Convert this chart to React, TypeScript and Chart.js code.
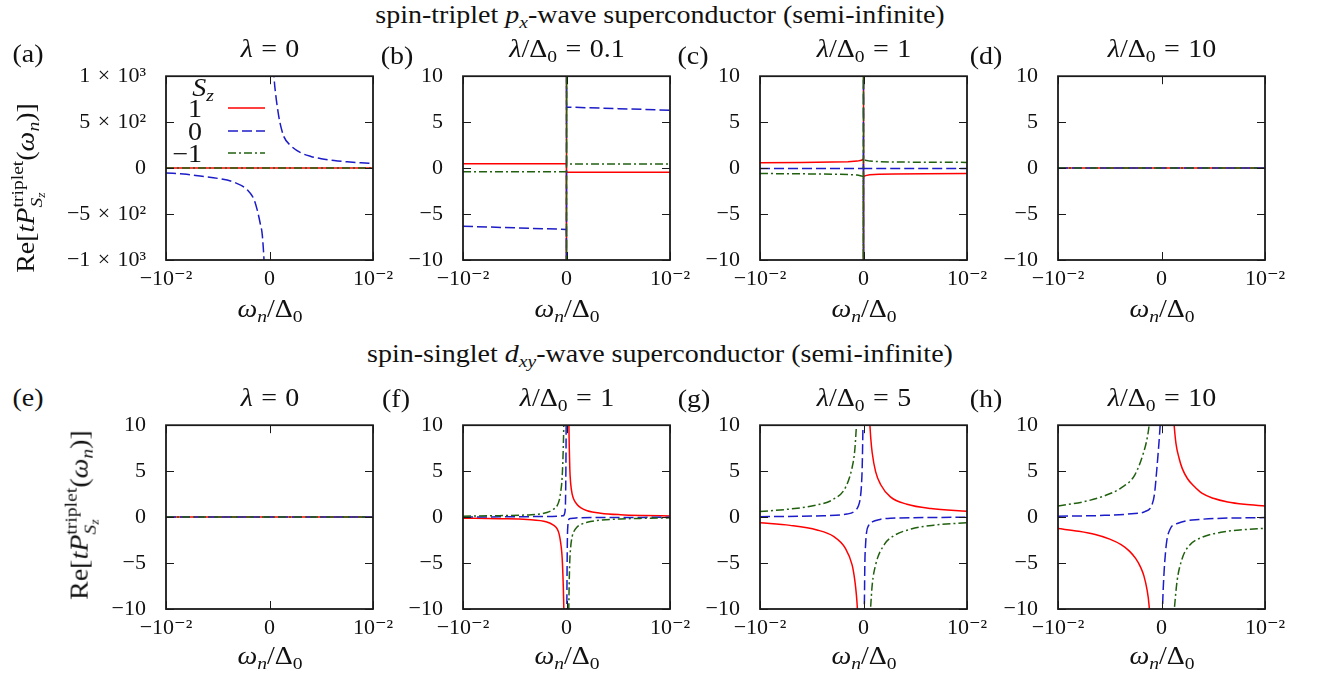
import React, { useEffect, useRef } from 'react';
import { Chart, registerables } from 'chart.js';

Chart.register(...registerables);

// ---------------- tick values / labels ----------------
const X_TICK_VALUES = [-0.01, 0, 0.01];
const X_TICK_LABELS = ['−10⁻²', '0', '10⁻²'];
const Y_TICK_VALUES_LARGE = [-1000, -500, 0, 500, 1000];
const Y_TICK_LABELS_LARGE = ['−1\u2004×\u200410³', '−5\u2004×\u200410²', '0', '5\u2004×\u200410²', '1\u2004×\u200410³'];
const Y_TICK_VALUES = [-10, -5, 0, 5, 10];
const Y_TICK_LABELS = ['−10', '−5', '0', '5', '10'];

// legend entries (S_z values)
const SZ_LABELS = ['1', '0', '−1'];

// panel titles (λ/Δ0 values)
const PANEL_LAMBDA = ['0', '0.1', '1', '10', '0', '1', '5', '10'];
const PANEL_LETTERS = ['a', 'b', 'c', 'd', 'e', 'f', 'g', 'h'];

// ---------------- (a) p_x, λ = 0 ----------------
const A_FLAT_X = [-0.01, 0.01];
const A_RED_Y = [0, 0];
const A_GREEN_Y = [0, 0];
const A_BLUE_L_X = [-0.01, -0.008, -0.0067, -0.005, -0.0034, -0.0021, -0.0015, -0.0012, -0.0009, -0.0007, -0.00053, -0.00045];
const A_BLUE_L_Y = [-52, -68, -87, -112, -155, -242, -340, -449, -600, -724, -1000, -1200];
const A_BLUE_R_X = [0.00036, 0.00044, 0.0006, 0.00077, 0.001, 0.0014, 0.002, 0.003, 0.004, 0.005, 0.00625, 0.0075, 0.00884, 0.01];
const A_BLUE_R_Y = [1250, 1000, 800, 655, 500, 340, 250, 168, 127, 102, 82, 68, 57, 50];

// ---------------- (b) p_x, λ/Δ0 = 0.1 ----------------
const B_X = [-0.01, -0.005, -0.00001, -0.000001, 0.000001, 0.00001, 0.005, 0.01];
const B_RED_Y = [0.46, 0.46, 0.46, 1000, -1000, -0.46, -0.46, -0.46];
const B_BLUE_Y = [-6.33, -6.5, -6.67, -1000, 1000, 6.64, 6.47, 6.3];
const B_GREEN_Y = [-0.4, -0.4, -0.4, -1000, 1000, 0.45, 0.45, 0.45];

// ---------------- (c) p_x, λ/Δ0 = 1 ----------------
const C_X = [-0.01, -0.006, -0.003, -0.0015, -0.0006, -0.0002, -0.00001, -0.000001, 0.000001, 0.00001, 0.0002, 0.0006, 0.0015, 0.003, 0.006, 0.01];
const C_RED_Y = [0.59, 0.62, 0.66, 0.7, 0.76, 0.85, 1.0, 1000, -1000, -0.93, -0.82, -0.72, -0.66, -0.63, -0.61, -0.59];
const C_BLUE_Y = [-0.03, -0.03, -0.03, -0.03, -0.03, -0.03, -0.03, 1000, -1000, -0.03, -0.03, -0.03, -0.03, -0.03, -0.03, -0.03];
const C_GREEN_Y = [-0.59, -0.62, -0.66, -0.7, -0.76, -0.85, -0.93, -1000, 1000, 0.93, 0.85, 0.76, 0.7, 0.66, 0.64, 0.62];

// ---------------- (d) p_x, λ/Δ0 = 10 ----------------
const D_X = [-0.01, 0.01];
const D_RED_Y = [0, 0];
const D_BLUE_Y = [0, 0];
const D_GREEN_Y = [0, 0];

// ---------------- (e) d_xy, λ = 0 ----------------
const E_X = [-0.01, 0.01];
const E_RED_Y = [0, 0];
const E_BLUE_Y = [0, 0];
const E_GREEN_Y = [0, 0];

// ---------------- (f) d_xy, λ/Δ0 = 1 ----------------
const F_RED_L_X = [-0.01, -0.0065, -0.0038, -0.0019, -0.0013, -0.0009, -0.0007, -0.00058, -0.00046, -0.00039, -0.00031, -0.00026, -0.00023];
const F_RED_L_Y = [-0.12, -0.18, -0.26, -0.53, -0.85, -1.29, -1.9, -2.66, -3.8, -5.07, -7.5, -9.9, -12];
const F_RED_R_X = [0.00021, 0.00023, 0.00027, 0.00032, 0.0004, 0.00055, 0.0007, 0.001, 0.0014, 0.002, 0.0033, 0.0052, 0.0075, 0.01];
const F_RED_R_Y = [12, 10, 7.5, 5.24, 3.7, 2.49, 1.95, 1.39, 1.0, 0.7, 0.43, 0.26, 0.17, 0.12];
const F_GREEN_L_X = [-0.01, -0.0065, -0.0038, -0.0019, -0.0013, -0.0009, -0.0007, -0.00058, -0.00046, -0.00039, -0.00032, -0.00027, -0.00024];
const F_GREEN_L_Y = [0.1, 0.16, 0.24, 0.5, 0.82, 1.25, 1.85, 2.6, 3.7, 5.0, 7.2, 9.6, 12];
const F_GREEN_R_X = [0.0002, 0.00022, 0.00026, 0.00031, 0.0004, 0.00055, 0.0007, 0.001, 0.0014, 0.002, 0.0033, 0.0052, 0.0075, 0.01];
const F_GREEN_R_Y = [-12, -10, -7.3, -5.0, -3.3, -2.1, -1.6, -1.1, -0.8, -0.55, -0.33, -0.2, -0.13, -0.08];
const F_BLUE_L_X = [-0.01, -0.0038, -0.0009, -0.0004, -0.00026, -0.00018, -0.00013, -0.0001, -0.00008, -0.00006, -0.00004, -0.00003];
const F_BLUE_L_Y = [0.0, 0.05, 0.09, 0.14, 0.19, 0.4, 0.77, 1.5, 2.8, 5.2, 8.5, 11];
const F_BLUE_R_X = [0.00003, 0.00004, 0.00006, 0.00008, 0.0001, 0.00013, 0.00018, 0.00026, 0.0004, 0.0009, 0.0038, 0.01];
const F_BLUE_R_Y = [-11, -8.5, -5.07, -2.8, -1.6, -0.95, -0.45, -0.19, -0.14, -0.09, -0.05, -0.02];

// ---------------- (g) d_xy, λ/Δ0 = 5 ----------------
const G_RED_L_X = [-0.01, -0.0071, -0.0045, -0.0029, -0.00175, -0.0011, -0.00085, -0.0007, -0.00061, -0.00055];
const G_RED_L_Y = [-0.62, -0.9, -1.4, -2.1, -3.4, -5.2, -6.8, -8.3, -9.6, -11];
const G_RED_R_X = [0.00055, 0.00062, 0.0007, 0.00084, 0.00117, 0.00165, 0.0026, 0.0042, 0.0065, 0.01];
const G_RED_R_Y = [11, 10, 8.6, 7.0, 4.95, 3.55, 2.2, 1.4, 0.93, 0.64];
const G_GREEN_L_X = [-0.01, -0.0071, -0.0045, -0.0029, -0.00175, -0.0011, -0.00085, -0.00068, -0.0006];
const G_GREEN_L_Y = [0.6, 0.88, 1.32, 1.95, 3.2, 5.4, 7.2, 10, 11.5];
const G_GREEN_R_X = [0.0006, 0.00068, 0.00084, 0.00117, 0.002, 0.0029, 0.0046, 0.0068, 0.01];
const G_GREEN_R_Y = [-11.5, -10, -7.4, -5.2, -3.0, -2.05, -1.3, -0.88, -0.6];
const G_BLUE_L_X = [-0.01, -0.0039, -0.0016, -0.0008, -0.0005, -0.0003, -0.0002, -0.00013, -0.00008, -0.00004];
const G_BLUE_L_Y = [0.05, 0.15, 0.33, 0.7, 1.2, 2.15, 3.4, 5.24, 8, 11];
const G_BLUE_R_X = [0.00006, 0.00009, 0.00013, 0.0002, 0.0003, 0.0005, 0.00084, 0.0016, 0.0026, 0.01];
const G_BLUE_R_Y = [-11, -9, -5.07, -3, -1.63, -0.9, -0.53, -0.25, -0.12, -0.02];

// ---------------- (h) d_xy, λ/Δ0 = 10 ----------------
const H_RED_L_X = [-0.01, -0.008, -0.0064, -0.005, -0.0039, -0.0031, -0.0025, -0.002, -0.0017, -0.0014, -0.0012, -0.0011];
const H_RED_L_Y = [-1.25, -1.55, -1.9, -2.4, -3.0, -3.7, -4.5, -5.5, -6.4, -7.9, -9.6, -11.5];
const H_RED_R_X = [0.00112, 0.00122, 0.0014, 0.0017, 0.002, 0.0025, 0.0031, 0.0039, 0.005, 0.0064, 0.008, 0.01];
const H_RED_R_Y = [11.5, 10, 8.0, 6.4, 5.3, 4.2, 3.4, 2.6, 2.05, 1.65, 1.4, 1.22];
const H_GREEN_L_X = [-0.01, -0.0077, -0.0055, -0.0039, -0.0026, -0.00175, -0.0014, -0.0012, -0.0011];
const H_GREEN_L_Y = [1.22, 1.63, 2.32, 3.18, 4.55, 6.96, 8.5, 10, 11.5];
const H_GREEN_R_X = [0.00112, 0.00124, 0.0015, 0.002, 0.0026, 0.0039, 0.0059, 0.0078, 0.01];
const H_GREEN_R_Y = [-11.5, -10, -7.0, -4.5, -3.2, -2.2, -1.63, -1.38, -1.22];
const H_BLUE_L_X = [-0.01, -0.0055, -0.0029, -0.0016, -0.00094, -0.00068, -0.00045, -0.0003, -0.0002, -0.00013, -0.0001];
const H_BLUE_L_Y = [0.09, 0.19, 0.36, 0.6, 1.29, 2.49, 5.24, 7.3, 8.8, 10, 10.8];
const H_BLUE_R_X = [0.00008, 0.0001, 0.0002, 0.0003, 0.0005, 0.00084, 0.0016, 0.0036, 0.01];
const H_BLUE_R_Y = [-11, -9.9, -7.0, -5.07, -2.66, -1.29, -0.67, -0.26, -0.05];

// ---------------- layout / style ----------------
const SERIF = '"Liberation Serif", "DejaVu Serif", serif';
const INK = '#111111';
const TICK_FONT_SIZE = 22;
const TEXT_FONT_SIZE = 25;
const TEXT_STRETCH = 1.12;
const COL_LEFT = [166, 463, 760, 1058];
const ROW_TOP = [67, 416];
const PLOT_W = 207;
const PLOT_H = 193;
const PAD_TOP = 24;
const PAD_RIGHT = 48;
const X_AXIS_H = 44;

const SERIES_STYLE = [
  { color: '#ff0000', dash: [] as number[] },
  { color: '#1c1cc8', dash: [10, 4] },
  { color: '#21600f', dash: [8, 3, 2, 3] },
];

type Branch = [number[], number[]];
type PanelDef = {
  id: string;
  col: number;
  row: number;
  yMin: number;
  yMax: number;
  yTicks: number[];
  yLabels: string[];
  smooth: boolean;
  series: Branch[][]; // [red, blue, green]
};

const PANELS: PanelDef[] = [
  {
    id: 'a', col: 0, row: 0, yMin: -1000, yMax: 1000, yTicks: Y_TICK_VALUES_LARGE, yLabels: Y_TICK_LABELS_LARGE, smooth: true,
    series: [[[A_FLAT_X, A_RED_Y]], [[A_BLUE_L_X, A_BLUE_L_Y], [A_BLUE_R_X, A_BLUE_R_Y]], [[A_FLAT_X, A_GREEN_Y]]],
  },
  {
    id: 'b', col: 1, row: 0, yMin: -10, yMax: 10, yTicks: Y_TICK_VALUES, yLabels: Y_TICK_LABELS, smooth: false,
    series: [[[B_X, B_RED_Y]], [[B_X, B_BLUE_Y]], [[B_X, B_GREEN_Y]]],
  },
  {
    id: 'c', col: 2, row: 0, yMin: -10, yMax: 10, yTicks: Y_TICK_VALUES, yLabels: Y_TICK_LABELS, smooth: false,
    series: [[[C_X, C_RED_Y]], [[C_X, C_BLUE_Y]], [[C_X, C_GREEN_Y]]],
  },
  {
    id: 'd', col: 3, row: 0, yMin: -10, yMax: 10, yTicks: Y_TICK_VALUES, yLabels: Y_TICK_LABELS, smooth: false,
    series: [[[D_X, D_RED_Y]], [[D_X, D_BLUE_Y]], [[D_X, D_GREEN_Y]]],
  },
  {
    id: 'e', col: 0, row: 1, yMin: -10, yMax: 10, yTicks: Y_TICK_VALUES, yLabels: Y_TICK_LABELS, smooth: false,
    series: [[[E_X, E_RED_Y]], [[E_X, E_BLUE_Y]], [[E_X, E_GREEN_Y]]],
  },
  {
    id: 'f', col: 1, row: 1, yMin: -10, yMax: 10, yTicks: Y_TICK_VALUES, yLabels: Y_TICK_LABELS, smooth: true,
    series: [
      [[F_RED_L_X, F_RED_L_Y], [F_RED_R_X, F_RED_R_Y]],
      [[F_BLUE_L_X, F_BLUE_L_Y], [F_BLUE_R_X, F_BLUE_R_Y]],
      [[F_GREEN_L_X, F_GREEN_L_Y], [F_GREEN_R_X, F_GREEN_R_Y]],
    ],
  },
  {
    id: 'g', col: 2, row: 1, yMin: -10, yMax: 10, yTicks: Y_TICK_VALUES, yLabels: Y_TICK_LABELS, smooth: true,
    series: [
      [[G_RED_L_X, G_RED_L_Y], [G_RED_R_X, G_RED_R_Y]],
      [[G_BLUE_L_X, G_BLUE_L_Y], [G_BLUE_R_X, G_BLUE_R_Y]],
      [[G_GREEN_L_X, G_GREEN_L_Y], [G_GREEN_R_X, G_GREEN_R_Y]],
    ],
  },
  {
    id: 'h', col: 3, row: 1, yMin: -10, yMax: 10, yTicks: Y_TICK_VALUES, yLabels: Y_TICK_LABELS, smooth: true,
    series: [
      [[H_RED_L_X, H_RED_L_Y], [H_RED_R_X, H_RED_R_Y]],
      [[H_BLUE_L_X, H_BLUE_L_Y], [H_BLUE_R_X, H_BLUE_R_Y]],
      [[H_GREEN_L_X, H_GREEN_L_Y], [H_GREEN_R_X, H_GREEN_R_Y]],
    ],
  },
];

function toPoints(branches: Branch[]) {
  const out: { x: number; y: number | null }[] = [];
  branches.forEach(([xs, ys], b) => {
    if (b > 0) out.push({ x: 0, y: null });
    xs.forEach((x, i) => out.push({ x, y: ys[i] }));
  });
  return out;
}

const framePlugin = {
  id: 'gnuplotFrame',
  afterDatasetsDraw(chart: any) {
    const { ctx, chartArea, scales } = chart;
    const { left, right, top, bottom } = chartArea;
    const tl = 8;
    ctx.save();
    ctx.strokeStyle = '#1a1a1a';
    ctx.lineWidth = 1;
    ctx.beginPath();
    scales.y.ticks.forEach((t: any) => {
      const py = Math.round(scales.y.getPixelForValue(t.value)) + 0.5;
      ctx.moveTo(left, py);
      ctx.lineTo(left + tl, py);
      ctx.moveTo(right, py);
      ctx.lineTo(right - tl, py);
    });
    scales.x.ticks.forEach((t: any) => {
      const px = Math.round(scales.x.getPixelForValue(t.value)) + 0.5;
      ctx.moveTo(px, bottom);
      ctx.lineTo(px, bottom - tl);
      ctx.moveTo(px, top);
      ctx.lineTo(px, top + tl);
    });
    ctx.stroke();
    ctx.lineWidth = 1.8;
    ctx.strokeRect(left, top, right - left, bottom - top);
    ctx.restore();
  },
};

function yAxisWidth(p: PanelDef) {
  return p.col === 0 && p.row === 0 ? 160 : 90;
}

function Panel({ p }: { p: PanelDef }) {
  const ref = useRef<HTMLCanvasElement>(null);
  const yw = yAxisWidth(p);
  const w = yw + PLOT_W + PAD_RIGHT;
  const h = PAD_TOP + PLOT_H + X_AXIS_H;

  useEffect(() => {
    const font = { family: SERIF, size: TICK_FONT_SIZE };
    const datasets = p.series.map((branches, si) => ({
      data: toPoints(branches),
      borderColor: SERIES_STYLE[si].color,
      borderDash: SERIES_STYLE[si].dash,
      borderWidth: 1.5,
      pointRadius: 0,
      fill: false,
      spanGaps: false,
      order: 3 - si,
      cubicInterpolationMode: p.smooth ? ('monotone' as const) : ('default' as const),
      tension: 0,
    }));
    const chart = new Chart(ref.current as HTMLCanvasElement, {
      type: 'line',
      data: { datasets: datasets as any },
      options: {
        responsive: false,
        animation: false,
        devicePixelRatio: 1,
        layout: { padding: { left: 0, right: PAD_RIGHT, top: PAD_TOP, bottom: 0 }, autoPadding: false } as any,
        elements: { line: { capBezierPoints: false }, point: { radius: 0 } },
        plugins: { legend: { display: false }, tooltip: { enabled: false }, title: { display: false } },
        scales: {
          x: {
            type: 'linear',
            min: -0.01,
            max: 0.01,
            afterBuildTicks: (s: any) => {
              s.ticks = X_TICK_VALUES.map((v) => ({ value: v }));
            },
            afterFit: (s: any) => {
              s.height = X_AXIS_H;
            },
            ticks: {
              autoSkip: false,
              maxRotation: 0,
              padding: 6,
              color: INK,
              font,
              callback: (_v: any, i: number) => X_TICK_LABELS[i],
            },
            grid: { display: false, drawTicks: false },
            border: { display: false },
          },
          y: {
            type: 'linear',
            min: p.yMin,
            max: p.yMax,
            afterBuildTicks: (s: any) => {
              s.ticks = p.yTicks.map((v) => ({ value: v }));
            },
            afterFit: (s: any) => {
              s.width = yw;
            },
            ticks: {
              autoSkip: false,
              padding: 20,
              color: INK,
              font,
              callback: (_v: any, i: number) => p.yLabels[i],
            },
            grid: { display: false, drawTicks: false },
            border: { display: false },
          },
        },
      },
      plugins: [framePlugin],
    });
    // make sure the serif face is used for the canvas tick labels once it is available
    let alive = true;
    const redraw = () => {
      if (alive) chart.update('none');
    };
    if ((document as any).fonts && (document as any).fonts.load) {
      (document as any).fonts
        .load(`${TICK_FONT_SIZE}px "Liberation Serif"`)
        .then(redraw)
        .catch(() => {});
      (document as any).fonts.ready.then(redraw).catch(() => {});
    }
    const t = setTimeout(redraw, 150);
    return () => {
      alive = false;
      clearTimeout(t);
      chart.destroy();
    };
  }, []);

  return (
    <canvas
      ref={ref}
      width={w}
      height={h}
      style={{ position: 'absolute', left: COL_LEFT[p.col] - yw, top: ROW_TOP[p.row] - PAD_TOP, width: w, height: h }}
    />
  );
}

const Sub = ({ children }: { children: React.ReactNode }) => (
  <span style={{ fontSize: '0.7em', position: 'relative', top: '0.3em' }}>{children}</span>
);

function T({
  x,
  y,
  children,
  rotate = false,
  align = 'center',
  size = TEXT_FONT_SIZE,
}: {
  x: number;
  y: number;
  children: React.ReactNode;
  rotate?: boolean;
  align?: 'center' | 'right' | 'left';
  size?: number;
}) {
  const tx = align === 'center' ? '-50%' : align === 'right' ? '-100%' : '0';
  const origin = align === 'right' ? 'right center' : align === 'left' ? 'left center' : 'center center';
  return (
    <div
      style={{
        position: 'absolute',
        left: x,
        top: y,
        fontSize: size,
        lineHeight: 1,
        whiteSpace: 'nowrap',
        transformOrigin: origin,
        transform: `translate(${tx}, -50%)${rotate ? ' rotate(-90deg)' : ''} scaleX(${TEXT_STRETCH})`,
      }}
    >
      {children}
    </div>
  );
}

const Eq = () => <span style={{ margin: '0 0.3em' }}>=</span>;

function PanelTitle({ idx }: { idx: number }) {
  if (idx % 4 === 0) {
    return (
      <>
        <i>λ</i>
        <Eq />
        {PANEL_LAMBDA[idx]}
      </>
    );
  }
  return (
    <>
      <i>λ</i>/Δ<Sub>0</Sub>
      <Eq />
      {PANEL_LAMBDA[idx]}
    </>
  );
}

const XTitle = () => (
  <>
    <i>ω</i>
    <Sub>
      <i>n</i>
    </Sub>
    /Δ<Sub>0</Sub>
  </>
);

const YTitle = () => (
  <>
    Re[<i>tP</i>
    <span
      style={{
        display: 'inline-flex',
        flexDirection: 'column',
        fontSize: '0.7em',
        lineHeight: 1.05,
        verticalAlign: 'middle',
        position: 'relative',
        top: '-0.1em',
      }}
    >
      <span>triplet</span>
      <span>
        <i>S</i>
        <Sub>
          <i>z</i>
        </Sub>
      </span>
    </span>
    (<i>ω</i>
    <Sub>
      <i>n</i>
    </Sub>
    )]
  </>
);

const LETTER_POS = [
  [28, 53], [397, 55], [693, 55], [986, 55],
  [28, 397], [396, 398], [694, 398], [986, 398],
];

export default function App() {
  const legendY = [108, 131, 153];
  return (
    <div
      style={{
        position: 'absolute',
        left: 0,
        top: 0,
        width: 1320,
        height: 675,
        background: '#ffffff',
        overflow: 'hidden',
        fontFamily: SERIF,
        color: INK,
      }}
    >
      {PANELS.map((p) => (
        <Panel key={p.id} p={p} />
      ))}

      <T x={660} y={14}>
        spin-triplet <i>p</i>
        <Sub>
          <i>x</i>
        </Sub>
        -wave superconductor (semi-infinite)
      </T>
      <T x={660} y={353}>
        spin-singlet <i>d</i>
        <Sub>
          <i>xy</i>
        </Sub>
        -wave superconductor (semi-infinite)
      </T>

      {PANEL_LETTERS.map((l, i) => (
        <T key={l} x={LETTER_POS[i][0]} y={LETTER_POS[i][1]}>
          ({l})
        </T>
      ))}

      {PANELS.map((p, i) => (
        <T key={'t' + p.id} x={COL_LEFT[p.col] + PLOT_W / 2} y={p.row === 0 ? 48 : 397}>
          <PanelTitle idx={i} />
        </T>
      ))}

      {PANELS.map((p) => (
        <T key={'x' + p.id} x={COL_LEFT[p.col] + PLOT_W / 2} y={p.row === 0 ? 308 : 655}>
          <XTitle />
        </T>
      ))}

      <T x={28} y={188} rotate>
        <YTitle />
      </T>
      <T x={82} y={515} rotate>
        <YTitle />
      </T>

      {/* legend of panel (a) */}
      <T x={203} y={87}>
        <i>S</i>
        <Sub>
          <i>z</i>
        </Sub>
      </T>
      {SZ_LABELS.map((s, i) => (
        <T key={'lg' + i} x={202} y={legendY[i]} align="right">
          {s}
        </T>
      ))}
      <svg width={1320} height={675} style={{ position: 'absolute', left: 0, top: 0, pointerEvents: 'none' }}>
        {SERIES_STYLE.map((st, i) => (
          <line
            key={i}
            x1={228}
            x2={265}
            y1={legendY[i]}
            y2={legendY[i]}
            stroke={st.color}
            strokeWidth={1.5}
            strokeDasharray={st.dash.length ? st.dash.join(' ') : undefined}
          />
        ))}
      </svg>
    </div>
  );
}
